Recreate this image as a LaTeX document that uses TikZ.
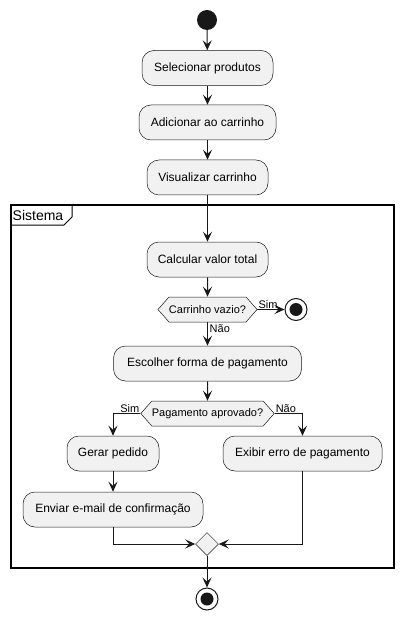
\documentclass[tikz,border=0pt]{standalone}
\usepackage{fontspec}
\setmainfont{Liberation Sans}
\usetikzlibrary{arrows.meta,shapes.symbols,shapes.geometric,calc}
\definecolor{boxfill}{HTML}{F1F1F1}
\definecolor{ink}{HTML}{181818}
\tikzset{
  act/.style={draw=ink, line width=0.5pt, fill=boxfill, rounded corners=12pt, minimum height=35pt, inner sep=0pt, font=\fontsize{12}{14}\selectfont},
  cond/.style={draw=ink, line width=0.5pt, fill=boxfill, signal, signal to=west and east, signal pointer angle=97, minimum height=25pt, inner sep=0pt, font=\fontsize{11}{13}\selectfont},
  merge/.style={draw=ink, line width=0.5pt, fill=boxfill, diamond, minimum size=23pt, inner sep=0pt},
  startnode/.style={circle, fill=ink, minimum size=20pt, inner sep=0pt},
  stopnode/.style={circle, draw=ink, line width=1pt, fill=white, minimum size=22pt, inner sep=0pt},
  arr/.style={draw=ink, line width=1pt, -{Stealth[length=10pt,width=9pt,inset=4pt]}},
  lbl/.style={font=\fontsize{11}{13}\selectfont, inner sep=1pt},
}
\begin{document}
\begin{tikzpicture}[x=1pt,y=-1pt]
\useasboundingbox (0,0) rectangle (403,620);
% frame
\draw[line width=1.5pt, black] (11,205) rectangle (394,568);
\draw[line width=1pt, black] (11,225) -- (64,225) -- (72,217) -- (72,205);
\node[anchor=west, inner sep=0pt, font=\fontsize{14}{16}\selectfont] (frm) at (12.5,215) {Sistema};

\node[startnode] (start) at (207,20) {};
\node[act, minimum width=131pt] (sel) at (207.5,68) {Selecionar produtos};
\node[act, minimum width=137pt] (add) at (207.5,122.5) {Adicionar ao carrinho};
\node[act, minimum width=121pt] (vis) at (207.5,177.5) {Visualizar carrinho};
\node[act, minimum width=121pt] (calc) at (207.5,259.5) {Calcular valor total};
\node[cond, minimum width=99pt] (cv) at (207.5,309.5) {Carrinho vazio?};
\node[stopnode] (stop1) at (296,309.5) {};
\fill[ink] (stop1.center) circle (6.5pt);
\node[act, minimum width=188pt] (esc) at (207.5,363.5) {Escolher forma de pagamento};
\node[cond, minimum width=131pt] (pag) at (207.5,413.5) {Pagamento aprovado?};
\node[act, minimum width=92pt] (ger) at (113,453.5) {Gerar pedido};
\node[act, minimum width=159pt] (exi) at (302.5,453.5) {Exibir erro de pagamento};
\node[act, minimum width=180pt] (env) at (113,509.5) {Enviar e-mail de confirmação};
\node[merge] (mrg) at (207,544) {};
\node[stopnode] (stop2) at (207,599) {};
\fill[ink] (stop2.center) circle (6.5pt);

\draw[arr] (start) -- (sel);
\draw[arr] (sel) -- (add);
\draw[arr] (add) -- (vis);
\draw[arr] (vis) -- (calc);
\draw[arr] (calc) -- (cv);
\draw[arr] (cv.east) -- (stop1);
\node[lbl, anchor=south west] at (cv.east) {Sim};
\draw[arr] (cv.south) -- (esc);
\node[lbl, anchor=west] at ($(cv.south)+(1,6)$) {Não};
\draw[arr] (esc) -- (pag);
\draw[arr] (pag.west) -| (ger.north);
\node[lbl, anchor=south east] at (pag.west) {Sim};
\draw[arr] (pag.east) -| (exi.north);
\node[lbl, anchor=south west] at (pag.east) {Não};
\draw[arr] (ger) -- (env);
\draw[arr] (env.south) |- (mrg.west);
\draw[arr] (exi.south) |- (mrg.east);
\draw[arr] (mrg) -- (stop2);
\end{tikzpicture}
\end{document}
